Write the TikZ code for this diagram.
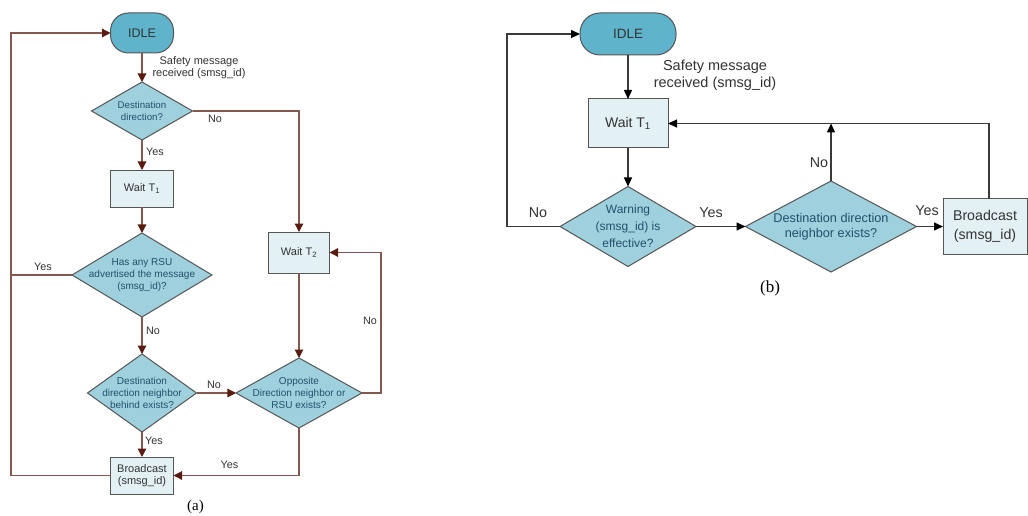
\documentclass[tikz,border=0pt]{standalone}
\usepackage{fontspec}
\setmainfont{Liberation Sans}
\newfontfamily\capfont{Liberation Serif}
\usetikzlibrary{shapes.geometric,arrows.meta,calc}
\definecolor{idlefill}{HTML}{5FB3CB}
\definecolor{diafill}{HTML}{9ED1DD}
\definecolor{boxfill}{HTML}{E3F1F5}
\definecolor{bordergray}{HTML}{555555}
\definecolor{lineA}{HTML}{85584E}
\definecolor{tipA}{HTML}{5A1C10}
\definecolor{lineB}{HTML}{3A3A3A}
\definecolor{diatext}{HTML}{22506C}
\definecolor{txt}{HTML}{333333}
\newcommand{\fsz}[2]{\fontsize{#1}{#2}\selectfont}
\begin{document}
\begin{tikzpicture}[x=1pt,y=-1pt,
  every node/.style={inner sep=0pt, outer sep=0pt},
  term/.style={rectangle, rounded corners=#1, draw=bordergray, line width=1pt, fill=idlefill, text=txt},
  dia/.style={diamond, draw=bordergray, line width=1pt, fill=diafill, aspect=1},
  dtext/.style={text=diatext, align=center},
  boxst/.style={rectangle, draw=bordergray, line width=1pt, fill=boxfill, text=txt, align=center},
  conA/.style={draw=lineA, line width=1.2pt},
  arA/.style={conA, -{Triangle[length=8.5pt,width=8.5pt,color=tipA]}},
  conB/.style={draw=lineB, line width=1.2pt},
  arB/.style={conB, -{Triangle[length=9pt,width=8pt,color=black]}},
  labA/.style={text=txt, font=\fsz{10.8}{12}},
  labB/.style={text=txt, font=\fsz{14.3}{16}},
]
\fill[white] (0,0) rectangle (1028,516);
\useasboundingbox (0,0) rectangle (1028,516);

% ---------------- panel (a) ----------------
\node[term=18pt, minimum width=63pt, minimum height=40pt, font=\fsz{12.5}{14}] (idleA) at (142,33) {IDLE};
\node[dia, minimum width=101pt, minimum height=58pt,
  label={[dtext,font=\fsz{9.7}{11.5}]center:Destination\\direction?}] (d1) at (142,111) {};
\node[boxst, minimum width=63pt, minimum height=37pt, font=\fsz{11}{12}] (w1) at (142,188.5) {Wait T\textsubscript{1}};
\node[dia, minimum width=140pt, minimum height=84pt,
  label={[dtext,font=\fsz{10}{12}]center:Has any RSU\\advertised the message\\(smsg\_id)?}] (d2) at (142,275) {};
\node[dia, minimum width=109pt, minimum height=78pt,
  label={[dtext,font=\fsz{10}{12}]center:Destination\\direction neighbor\\behind exists?}] (d3) at (142,393) {};
\node[dia, minimum width=126pt, minimum height=70pt,
  label={[dtext,font=\fsz{10}{12}]center:Opposite\\Direction neighbor or\\RSU exists?}] (d4) at (299,393) {};
\node[boxst, minimum width=61pt, minimum height=41pt, font=\fsz{11}{12}] (w2) at (299,252.5) {Wait T\textsubscript{2}};
\node[boxst, minimum width=63pt, minimum height=37pt, font=\fsz{11}{12.3}] (bcA) at (142,475.5) {Broadcast\\(smsg\_id)};

\node[text=txt, align=center, font=\fsz{11}{12}] (safeA) at (199,68) {Safety message\\received (smsg\_id)};

\coordinate (loopA) at (11,33);
\draw[arA] (idleA) -- (d1);
\draw[arA] (d1.east) -| (w2.north);
\draw[arA] (d1) -- (w1);
\draw[arA] (w1) -- (d2);
\draw[arA] (d2) -- (d3);
\draw[arA] (d3) -- (bcA);
\draw[arA] (d3) -- (d4);
\draw[arA] (w2) -- (d4);
\draw[arA] (d4.east) -- ++(19,0) |- (w2.east);
\draw[arA] (d4.south) |- (bcA.east);
\draw[arA] (bcA.west) -| (loopA) -- (idleA.west);
\draw[conA] (d2.west) -- (d2.west -| loopA);

\node[labA] (noA1) at (215,119) {No};
\node[labA] (yesA1) at (155,152) {Yes};
\node[labA] (yesA2) at (43,267) {Yes};
\node[labA] (noA2) at (153,331) {No};
\node[labA] (noA3) at (214,385) {No};
\node[labA] (yesA3) at (154,441) {Yes};
\node[labA] (yesA4) at (229.5,465) {Yes};
\node[labA] (noA4) at (370,321) {No};
\node[text=black, font=\capfont\fsz{15}{17}] (capA) at (195.5,507) {(a)};

% ---------------- panel (b) ----------------
\node[term=20pt, minimum width=96pt, minimum height=42pt, font=\fsz{13.5}{15}] (idleB) at (628,34) {IDLE};
\node[boxst, minimum width=80pt, minimum height=49pt, font=\fsz{14}{16}] (wB1) at (628,123.5) {Wait T\textsubscript{1}};
\node[dia, minimum width=136pt, minimum height=80pt,
  label={[dtext,font=\fsz{12}{17}]center:Warning\\(smsg\_id) is\\effective?}] (dW) at (628,226.5) {};
\node[dia, minimum width=171pt, minimum height=91pt,
  label={[dtext,font=\fsz{12.7}{14.5}]center:Destination direction\\neighbor exists?}] (dD) at (831,226.5) {};
\node[boxst, minimum width=84pt, minimum height=56pt, font=\fsz{14.2}{19}] (bcB) at (985,226.5) {Broadcast\\(smsg\_id)};

\node[text=txt, align=center, font=\fsz{14.5}{17}] (safeB) at (715,75.5) {Safety message\\received (smsg\_id)};

\coordinate (loopB) at (507,34);
\coordinate (topB) at (831,123.5);
\draw[arB] (idleB) -- (wB1);
\draw[arB] (wB1) -- (dW);
\draw[arB] (dW.west) -| (loopB) -- (idleB.west);
\draw[arB] (dW) -- (dD);
\draw[arB] (dD) -- (bcB);
\draw[arB] (dD.north) -- (topB);
\draw[arB] ($(bcB.north)+(4,0)$) |- (wB1.east);

\node[labB] (noB1) at (538,213) {No};
\node[labB] (yesB1) at (711,213) {Yes};
\node[labB] (yesB2) at (927,211) {Yes};
\node[labB] (noB2) at (819,163) {No};
\node[text=black, font=\capfont\fsz{17}{19}] (capB) at (770,288) {(b)};
\end{tikzpicture}
\end{document}
